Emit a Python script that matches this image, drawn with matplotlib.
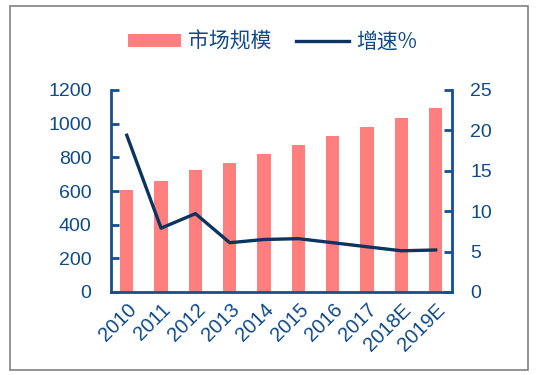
import matplotlib
matplotlib.use("Agg")
import matplotlib.pyplot as plt
from matplotlib.patches import Rectangle

plt.rcParams['font.family'] = ['Liberation Sans', 'Noto Sans CJK SC', 'DejaVu Sans']

years = ['2010', '2011', '2012', '2013', '2014', '2015', '2016', '2017', '2018E', '2019E']
market_size = [607, 657, 722, 768, 818, 873, 929, 983, 1035, 1091]
growth = [19.4, 7.9, 9.7, 6.1, 6.5, 6.6, 6.1, 5.6, 5.1, 5.2]
left_ticks = [0, 200, 400, 600, 800, 1000, 1200]
right_ticks = [0, 5, 10, 15, 20, 25]

bar_color = '#FF7F7F'
line_color = '#0B3461'
axis_color = '#154F8F'
text_color = '#0E4A8A'

fig = plt.figure(figsize=(5.36, 3.75), dpi=100)
W, H = 536, 375
ax = fig.add_axes([111 / W, 1 - 292 / H, (452 - 111) / W, (292 - 90) / H])
ax2 = ax.twinx()

x = list(range(len(years)))
ax.bar(x, market_size, width=0.39, color=bar_color, label='市场规模', zorder=2)
ax2.plot(x, growth, color=line_color, lw=2.4, label='增速%', zorder=3)

ax.set_xlim(-0.46, len(years) - 1 + 0.475)
ax.set_ylim(0, 1200)
ax2.set_ylim(0, 25)
ax.set_yticks(left_ticks)
ax2.set_yticks(right_ticks)
ax.set_xticks(x)
ax.set_xticklabels(years, rotation=45, ha='right', va='top', rotation_mode='anchor')

for a in (ax, ax2):
    for s in a.spines.values():
        s.set_visible(False)
    a.patch.set_visible(False)

for side in ('left', 'bottom'):
    ax.spines[side].set_visible(True)
    ax.spines[side].set_color(axis_color)
    ax.spines[side].set_linewidth(2)
ax2.spines['right'].set_visible(True)
ax2.spines['right'].set_color(axis_color)
ax2.spines['right'].set_linewidth(2)

ax.tick_params(axis='y', direction='in', length=6, width=2, color=axis_color,
               labelcolor=text_color, labelsize=14, pad=14)
ax.tick_params(axis='x', length=0, labelcolor=text_color, labelsize=14.5, pad=6)
ax2.tick_params(axis='y', direction='in', length=6, width=2, color=axis_color,
                labelcolor=text_color, labelsize=14, pad=13)

h1, l1 = ax.get_legend_handles_labels()
h2, l2 = ax2.get_legend_handles_labels()
leg = fig.legend(h1 + h2, l1 + l2, loc='center', bbox_to_anchor=(272.5 / W, 1 - 42 / H),
                 ncol=2, frameon=False, fontsize=15, handlelength=2.55, handleheight=0.55,
                 columnspacing=1.2, handletextpad=0.33, borderpad=0, borderaxespad=0)
for t in leg.get_texts():
    t.set_color(text_color)
    t.set_fontfamily(['Noto Sans CJK SC', 'DejaVu Sans'])

fig.patches.append(Rectangle((10 / W, 1 - 370 / H), 518 / W, 364 / H, transform=fig.transFigure,
                             fill=False, edgecolor='#808080', lw=1.2))

fig.savefig('out.png', dpi=100)
